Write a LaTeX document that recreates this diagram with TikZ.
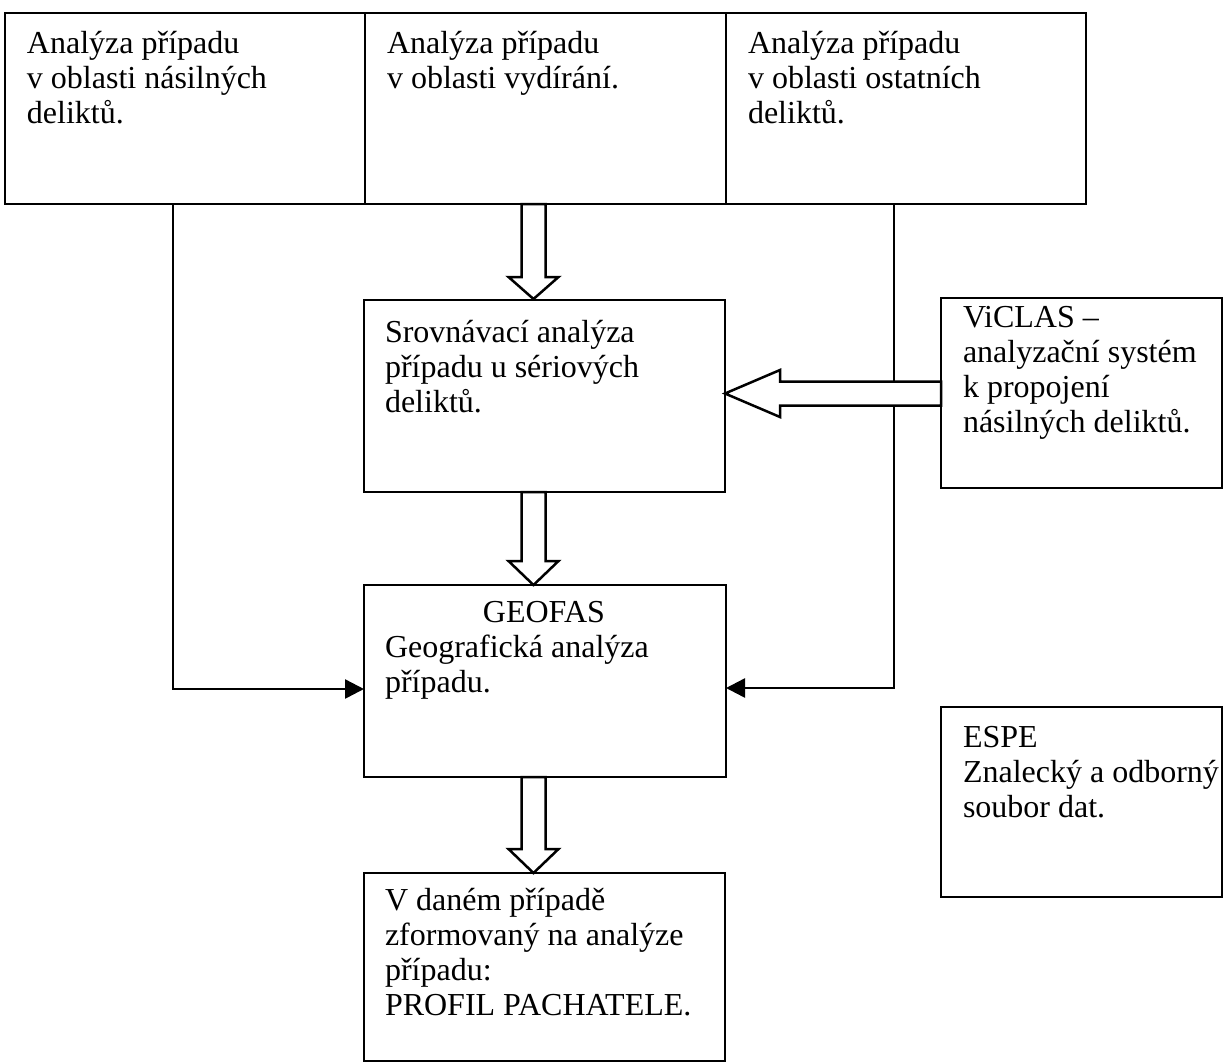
\documentclass[tikz,border=0pt]{standalone}
\usepackage{fontspec}
\setmainfont{Liberation Serif}
\usetikzlibrary{arrows.meta}
\tikzset{
  box/.style={draw, line width=2.5pt, rectangle, inner sep=0pt, outer sep=0pt, anchor=north west},
  txt/.style={anchor=north west, inner sep=0pt, outer sep=0pt, align=left, font=\fontsize{32}{35}\selectfont},
  conn/.style={line width=2.5pt, -{Triangle[length=19pt 0 0, width=19pt 0 0]}},
  blk/.style={draw, line width=2.5pt, fill=white, line join=miter}
}
\newcommand{\st}{\rule{0pt}{25pt}}
\begin{document}
\begin{tikzpicture}[x=1pt, y=-1pt]
\useasboundingbox[fill=white] (0,0) rectangle (1224,1061);
% boxes
\node[box, minimum width=360pt, minimum height=191pt] (b1) at (5,13) {};
\node[box, minimum width=361pt, minimum height=191pt] (b2) at (365,13) {};
\node[box, minimum width=360pt, minimum height=191pt] (b3) at (726,13) {};
\node[box, minimum width=361pt, minimum height=192pt] (srov) at (364,300) {};
\node[box, minimum width=362pt, minimum height=192pt] (geo) at (364,585) {};
\node[box, minimum width=361pt, minimum height=188pt] (prof) at (364,873) {};
\node[box, minimum width=281pt, minimum height=190pt] (vic) at (941,298) {};
\node[box, minimum width=281pt, minimum height=190pt] (espe) at (941,707) {};
% texts
\node[txt] (t1) at (27,28) {\st Analýza případu\\v oblasti násilných\\deliktů.};
\node[txt] (t2) at (387,28) {\st Analýza případu\\v oblasti vydírání.};
\node[txt] (t3) at (748,28) {\st Analýza případu\\v oblasti ostatních\\deliktů.};
\node[txt] (tsrov) at (385,317) {\st Srovnávací analýza\\případu u sériových\\deliktů.};
\node[txt, anchor=base] (tgeo1) at (544,622) {GEOFAS};
\node[txt] (tgeo2) at (385,632) {\st Geografická analýza\\případu.};
\node[txt] (tvic) at (963,302) {\st ViCLAS –\\analyzační systém\\k propojení\\násilných deliktů.};
\node[txt] (tespe) at (963,722) {\st ESPE\\Znalecký a odborný\\soubor dat.};
\node[txt] (tprof) at (385,885) {\st V daném případě\\zformovaný na analýze\\případu:\\PROFIL PACHATELE.};
% helper coordinates
\coordinate (ax) at (533.5,0);
\coordinate (ay) at (0,393.5);
\coordinate (jl) at (173,689);
\coordinate (jr) at (894,688);
% thin connectors
\draw[conn] (b1.south -| jl) -- (jl) -- (geo.west |- jl);
\draw[conn] (b3.south -| jr) -- (jr) -- (geo.east |- jr);
% block arrows
\draw[blk] (b2.south -| ax) ++(-12,0) -- ++(0,73) -- ++(-13,0) -- ++(25,22) -- ++(25,-22) -- ++(-13,0) -- ++(0,-73) -- cycle;
\draw[blk] (srov.south -| ax) ++(-12,0) -- ++(0,69) -- ++(-13,0) -- ++(25,24) -- ++(25,-24) -- ++(-13,0) -- ++(0,-69) -- cycle;
\draw[blk] (geo.south -| ax) ++(-12,0) -- ++(0,72) -- ++(-13,0) -- ++(25,24) -- ++(25,-24) -- ++(-13,0) -- ++(0,-72) -- cycle;
\draw[blk] (vic.west |- ay) ++(0,-12) -- ++(-161,0) -- ++(0,-11.5) -- ++(-55,23.5) -- ++(55,23.5) -- ++(0,-11.5) -- ++(161,0) -- cycle;
\end{tikzpicture}
\end{document}
